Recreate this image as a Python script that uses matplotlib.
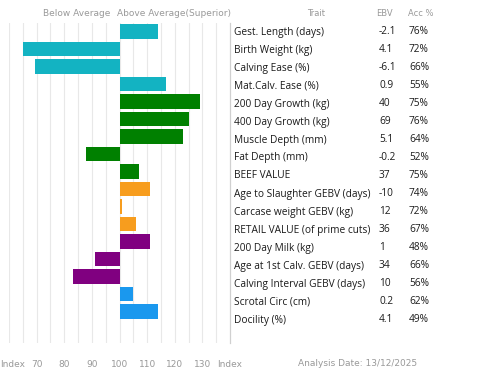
import numpy as np
import matplotlib
matplotlib.use("Agg")
import matplotlib.pyplot as plt
import matplotlib.transforms as mtransforms

traits = ["Gest. Length (days)", "Birth Weight (kg)", "Calving Ease (%)",
          "Mat.Calv. Ease (%)", "200 Day Growth (kg)", "400 Day Growth (kg)",
          "Muscle Depth (mm)", "Fat Depth (mm)", "BEEF VALUE",
          "Age to Slaughter GEBV (days)", "Carcase weight GEBV (kg)",
          "RETAIL VALUE (of prime cuts)", "200 Day Milk (kg)",
          "Age at 1st Calv. GEBV (days)", "Calving Interval GEBV (days)",
          "Scrotal Circ (cm)", "Docility (%)"]
index_vals = [114, 65, 69.3, 117, 129, 125, 123, 88, 107,
              111, 101, 106, 111, 91, 83, 105, 114]
ebv = ["-2.1", "4.1", "-6.1", "0.9", "40", "69", "5.1", "-0.2", "37",
       "-10", "12", "36", "1", "34", "10", "0.2", "4.1"]
acc = ["76%", "72%", "66%", "55%", "75%", "76%", "64%", "52%", "75%",
       "74%", "72%", "67%", "48%", "66%", "56%", "62%", "49%"]
groups = [0, 0, 0, 0, 1, 1, 1, 1, 1, 2, 2, 2, 3, 3, 3, 4, 4]
group_colors = ["#13b3c2", "#008000", "#f79d1e", "#800080", "#1a98ee"]
tick_pos = [60, 70, 80, 90, 100, 110, 120, 130, 140]
tick_lab = ["Index", "70", "80", "90", "100", "110", "120", "130", "Index"]

W, H = 480, 378
fig = plt.figure(figsize=(W / 100, H / 100), dpi=100)
ax = fig.add_axes([9 / W, 1 - 343 / H, (230 - 9) / W, (343 - 23) / H])

y = np.arange(len(traits))
vals = np.array(index_vals)
cols = [group_colors[g] for g in groups]
ax.barh(y, vals - 100, left=100, height=0.83, color=cols, zorder=3)

ax.set_xlim(60, 140)
ax.set_ylim(17.8, -0.5)
for v in np.arange(60, 140, 5):
    ax.axvline(v, color="#e8e8e8", lw=0.8, zorder=1)
for s in ["top", "bottom", "left"]:
    ax.spines[s].set_visible(False)
ax.spines["right"].set_color("#d0d0d0")
ax.spines["right"].set_linewidth(0.9)
ax.set_yticks([])
ax.set_xticks(tick_pos)
ax.set_xticklabels(tick_lab, fontsize=6.5, color="#999999")
ax.tick_params(axis="x", length=0, pad=12)
first = ax.get_xticklabels()[0]
first.set_horizontalalignment("left")
first.set_transform(first.get_transform() + mtransforms.ScaledTranslation(-9 / 100, 0, fig.dpi_scale_trans))

grey = "#999999"
fig.text(77 / W, 1 - 14 / H, "Below Average", ha="center", va="center", fontsize=6.5, color=grey)
fig.text(174 / W, 1 - 14 / H, "Above Average(Superior)", ha="center", va="center", fontsize=6.5, color=grey)
fig.text(316 / W, 1 - 13 / H, "Trait", ha="center", va="center", fontsize=6, color=grey)
fig.text(384 / W, 1 - 13 / H, "EBV", ha="center", va="center", fontsize=6, color=grey)
fig.text(421 / W, 1 - 13 / H, "Acc %", ha="center", va="center", fontsize=6, color=grey)
fig.text(358 / W, 1 - 363 / H, "Analysis Date: 13/12/2025", ha="center", va="center", fontsize=6.5, color=grey)

for i in range(len(traits)):
    yy = 1 - (32 + 18 * i) / H
    fig.text(234 / W, yy, traits[i], ha="left", va="center", fontsize=7.3,
             family="Open Sans", color="#1a1a1a")
    fig.text(379 / W, yy, ebv[i], ha="left", va="center", fontsize=7.3,
             family="Open Sans", color="#1a1a1a")
    fig.text(409 / W, yy, acc[i], ha="left", va="center", fontsize=7.3,
             family="Open Sans", color="#1a1a1a")

fig.savefig("out.png", dpi=100)
